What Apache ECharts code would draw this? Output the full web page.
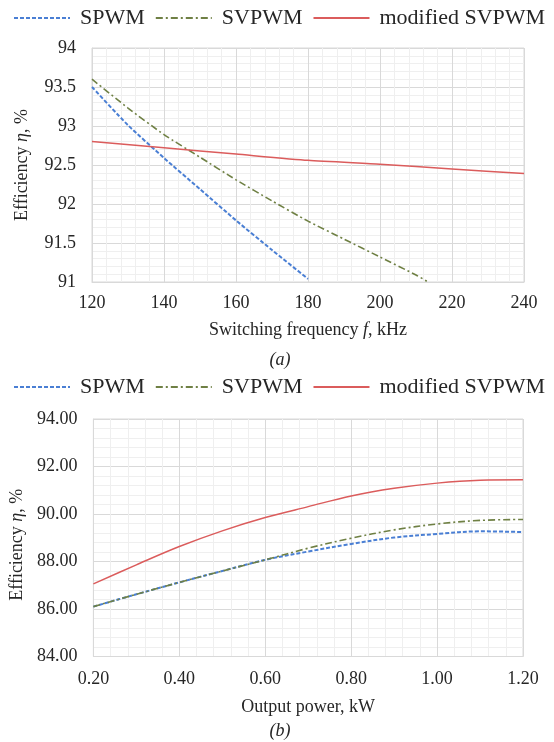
<!DOCTYPE html>
<html>
<head>
<meta charset="utf-8">
<script src="https://cdn.jsdelivr.net/npm/echarts@6/dist/echarts.min.js"></script>
<style>
html,body{margin:0;padding:0;background:#fff;}
#c{width:554px;height:742px;}
</style>
</head>
<body>
<div id="c"></div>
<script>
// ---- Data: chart (a) efficiency vs switching frequency ----
const seriesNames = ['SPWM', 'SVPWM', 'modified SVPWM'];
const freqSPWM = [120, 130, 140, 150, 160, 170, 180];
const effSPWM_a = [93.50, 93.01, 92.59, 92.19, 91.79, 91.41, 91.04];
const freqSVPWM = [120, 130, 140, 150, 160, 170, 180, 190, 200, 210, 213];
const effSVPWM_a = [93.60, 93.23, 92.89, 92.60, 92.31, 92.04, 91.78, 91.55, 91.32, 91.09, 91.01];
const freqMod = [120, 140, 160, 180, 200, 220, 240];
const effMod_a = [92.80, 92.72, 92.64, 92.56, 92.51, 92.45, 92.39];

// ---- Data: chart (b) efficiency vs output power ----
const power = [0.2, 0.3, 0.4, 0.5, 0.6, 0.7, 0.8, 0.9, 1.0, 1.1, 1.2];
const effSPWM_b = [86.10, 86.62, 87.12, 87.60, 88.07, 88.42, 88.74, 89.01, 89.16, 89.27, 89.24];
const effSVPWM_b = [86.10, 86.62, 87.12, 87.60, 88.07, 88.56, 88.98, 89.33, 89.58, 89.73, 89.77];
const effMod_b = [87.06, 87.86, 88.63, 89.29, 89.85, 90.31, 90.76, 91.08, 91.30, 91.42, 91.44];

const pairs = (xs, ys) => xs.map((x, i) => [x, ys[i]]);

const FONT = "'Liberation Serif', 'DejaVu Serif', serif";
const TXT = '#262626';
const MAJOR = '#d9d9d9';
const MINOR = '#efefef';
const C_BLUE = '#4a7fd4';
const C_GREEN = '#6f8044';
const C_RED = '#db5c5c';

const styles = {
  'SPWM': { color: C_BLUE, width: 2, type: [4, 2] },
  'SVPWM': { color: C_GREEN, width: 1.6, type: [7, 3, 2, 3] },
  'modified SVPWM': { color: C_RED, width: 1.5, type: 'solid' }
};

function line(name, data, xi, smooth) {
  const s = styles[name];
  return {
    name, type: 'line', xAxisIndex: xi, yAxisIndex: xi,
    data, symbol: 'none', smooth: smooth, clip: true,
    color: s.color,
    lineStyle: { color: s.color, width: s.width, type: s.type },
    itemStyle: { color: s.color }
  };
}

function axisCommon() {
  return {
    axisLine: { show: true, lineStyle: { color: MAJOR, width: 1 } },
    axisTick: { show: false },
    splitLine: { show: true, lineStyle: { color: MAJOR, width: 1 } },
    minorTick: { show: false, splitNumber: 5 },
    minorSplitLine: { show: true, lineStyle: { color: MINOR, width: 1 } },
    axisLabel: { color: TXT, fontFamily: FONT, fontSize: 18 }
  };
}

const yName = '{n|Efficiency }{i|η}{n|, %}';
function richStyle(pad) {
  return {
    color: TXT, fontFamily: FONT, fontSize: 18, padding: pad,
    rich: {
      n: { color: TXT, fontFamily: FONT, fontSize: 18 },
      i: { color: TXT, fontFamily: FONT, fontSize: 18, fontStyle: 'italic' }
    }
  };
}

const legendBase = {
  itemWidth: 56, itemHeight: 14, itemGap: 10,
  itemStyle: { opacity: 0 },
  textStyle: { color: TXT, fontFamily: FONT, fontSize: 22, padding: [0, 0, 0, 5] },
  data: seriesNames
};

const option = {
  animation: false,
  backgroundColor: '#fff',
  title: [
    { text: '(a)', left: 280, top: 351, textAlign: 'center',
      textStyle: { color: TXT, fontFamily: FONT, fontSize: 18, fontStyle: 'italic', fontWeight: 'normal' }, padding: 0 },
    { text: '(b)', left: 280, top: 722, textAlign: 'center',
      textStyle: { color: TXT, fontFamily: FONT, fontSize: 18, fontStyle: 'italic', fontWeight: 'normal' }, padding: 0 }
  ],
  legend: [
    Object.assign({}, legendBase, { left: 13, top: 7, padding: 0 }),
    Object.assign({}, legendBase, { left: 13, top: 376, padding: 0 })
  ],
  grid: [
    { left: 92, right: 30, top: 48, height: 234, show: true, borderColor: MAJOR, borderWidth: 1, containLabel: false },
    { left: 92, right: 31, top: 419, height: 237.5, show: true, borderColor: MAJOR, borderWidth: 1, containLabel: false }
  ],
  xAxis: [
    Object.assign(axisCommon(), {
      type: 'value', gridIndex: 0, min: 120, max: 240, interval: 20,
      name: '{n|Switching frequency }{i|f}{n|, kHz}', nameLocation: 'middle', nameGap: 39,
      nameTextStyle: richStyle(0)
    }),
    Object.assign(axisCommon(), {
      type: 'value', gridIndex: 1, min: 0.2, max: 1.2, interval: 0.2,
      name: 'Output power, kW', nameLocation: 'middle', nameGap: 42,
      nameTextStyle: { color: TXT, fontFamily: FONT, fontSize: 18 }
    })
  ],
  yAxis: [
    Object.assign(axisCommon(), {
      type: 'value', gridIndex: 0, min: 91, max: 94, interval: 0.5,
      name: yName, nameLocation: 'middle', nameGap: 61, nameRotate: 90,
      nameTextStyle: richStyle(0)
    }),
    Object.assign(axisCommon(), {
      type: 'value', gridIndex: 1, min: 84, max: 94, interval: 2,
      name: yName, nameLocation: 'middle', nameGap: 61, nameRotate: 90,
      nameTextStyle: richStyle([0, 14, 0, 0])
    })
  ],
  series: [
    line('SPWM', pairs(freqSPWM, effSPWM_a), 0, 0.2),
    line('SVPWM', pairs(freqSVPWM, effSVPWM_a), 0, 0.2),
    line('modified SVPWM', pairs(freqMod, effMod_a), 0, 0.2),
    line('SPWM', pairs(power, effSPWM_b), 1, 0.35),
    line('SVPWM', pairs(power, effSVPWM_b), 1, 0.35),
    line('modified SVPWM', pairs(power, effMod_b), 1, 0.35)
  ]
};

option.xAxis[0].axisLabel.margin = 12;
option.xAxis[1].axisLabel.margin = 14;
option.xAxis[1].axisLabel.formatter = v => v.toFixed(2);
option.yAxis[0].axisLabel.margin = 16;
option.yAxis[1].axisLabel.margin = 16;
option.yAxis[1].axisLabel.formatter = v => v.toFixed(2);

const chart = echarts.init(document.getElementById('c'), null, { renderer: 'canvas' });
chart.setOption(option);
</script>
</body>
</html>
